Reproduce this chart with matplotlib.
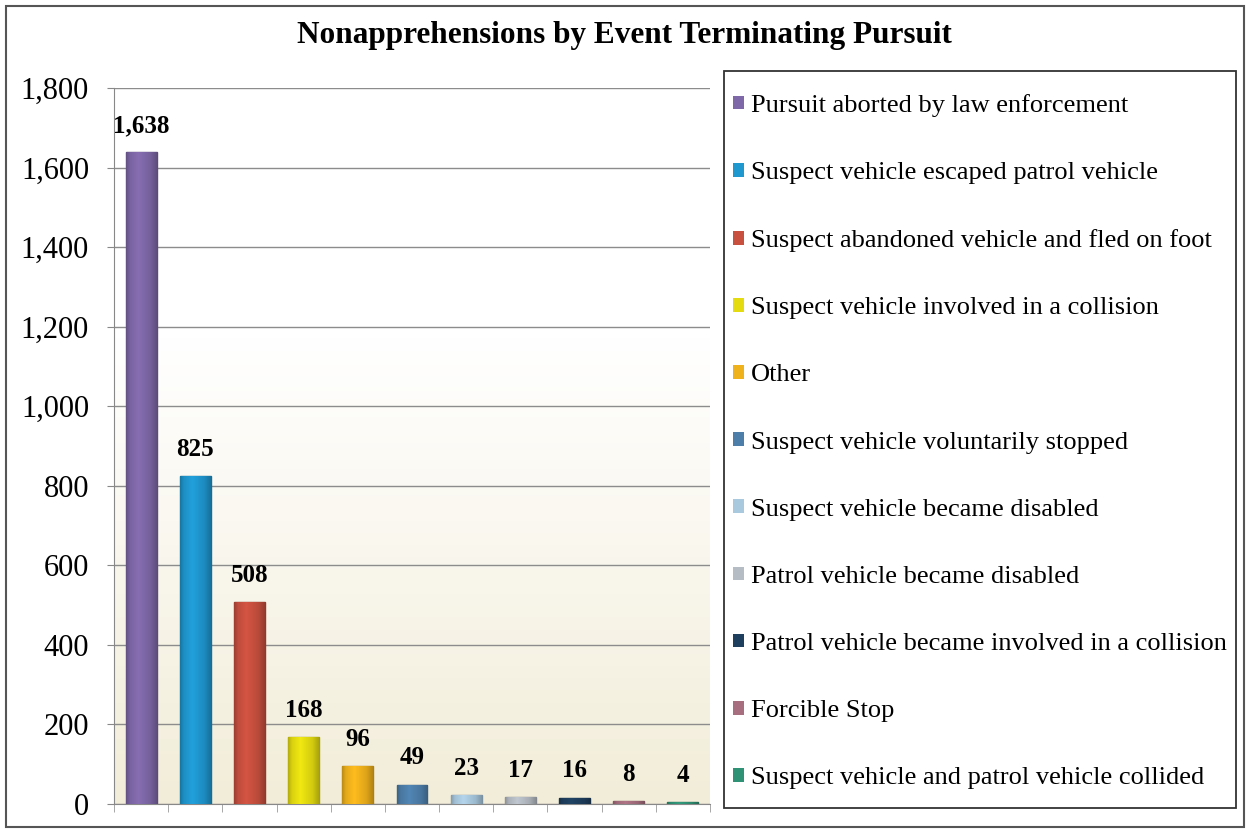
import matplotlib
matplotlib.use("Agg")
import matplotlib.pyplot as plt
import numpy as np
from matplotlib.patches import Patch, Rectangle
from matplotlib.colors import to_rgb
from matplotlib.ticker import FuncFormatter

categories = [
    "Pursuit aborted by law enforcement",
    "Suspect vehicle escaped patrol vehicle",
    "Suspect abandoned vehicle and fled on foot",
    "Suspect vehicle involved in a collision",
    "Other",
    "Suspect vehicle voluntarily stopped",
    "Suspect vehicle became disabled",
    "Patrol vehicle became disabled",
    "Patrol vehicle became involved in a collision",
    "Forcible Stop",
    "Suspect vehicle and patrol vehicle collided",
]
values = [1638, 825, 508, 168, 96, 49, 23, 17, 16, 8, 4]
colors = ["#7f68a8", "#1f97cf", "#c8503f", "#e4dc10", "#f0b21c", "#4d7eaa",
          "#a9c9df", "#b6bcc4", "#1f3f5f", "#a66e7e", "#2f9274"]
yticks = [0, 200, 400, 600, 800, 1000, 1200, 1400, 1600, 1800]
title = "Nonapprehensions by Event Terminating Pursuit"

plt.rcParams["font.family"] = ["Liberation Serif", "DejaVu Serif"]

W, H = 1249, 832
fig = plt.figure(figsize=(W / 100, H / 100), dpi=100)
ax = fig.add_axes([114 / W, 1 - 804 / H, (710 - 114) / W, (804 - 88) / H])

# background gradient (white top -> cream bottom)
grad = np.linspace(0, 1, 256).reshape(-1, 1)
top = np.array([1.0, 1.0, 1.0])
bot = np.array([0.95, 0.93, 0.85])
wgt = np.clip((grad - 0.35) / 0.65, 0, 1)
img = (top * (1 - wgt) + bot * wgt).reshape(256, 1, 3)
ax.imshow(img, extent=[0, 1, 0, 1], transform=ax.transAxes, aspect="auto",
          zorder=0, origin="upper")

x = np.arange(len(values))
edge = [tuple(np.array(to_rgb(c)) * 0.72) for c in colors]
bars = ax.bar(x, values, width=0.57, color=colors, edgecolor=edge, linewidth=1.0,
              zorder=3)

# cylinder-like horizontal shading inside each bar
prof_x = np.linspace(0, 1, 64)
shade = np.interp(prof_x, [0, 0.12, 0.4, 0.8, 1.0], [0.78, 0.95, 1.06, 0.92, 0.75])
for b, c in zip(bars, colors):
    rgb = np.clip(np.array(to_rgb(c))[None, :] * shade[:, None], 0, 1)
    x0, w_ = b.get_x(), b.get_width()
    im = ax.imshow(rgb[None, :, :], extent=[x0, x0 + w_, 0, b.get_height()],
                   aspect="auto", zorder=3.5, interpolation="bilinear")
    im.set_clip_path(b)

for i, v in enumerate(values):
    ax.annotate(f"{v:,}", (x[i], v), xytext=(0, 11), textcoords="offset points",
                ha="center", va="bottom", fontsize=18, fontweight="bold", zorder=4)

ax.set_xlim(-0.5, len(values) - 0.5)
ax.set_ylim(0, 1800)
ax.set_aspect("auto")
ax.set_yticks(yticks)
ax.yaxis.set_major_formatter(FuncFormatter(lambda v, p: f"{int(v):,}"))
ax.tick_params(axis="y", labelsize=22, length=5, color="#888888", pad=13)
ax.set_xticks([])
ax.set_xticks(np.arange(-0.5, len(values)), minor=True)
ax.tick_params(axis="x", which="minor", length=6, color="#999999")
ax.grid(axis="y", color="#8c8c8c", linewidth=1.0, zorder=1)
ax.set_axisbelow(True)
for s in ["top", "right"]:
    ax.spines[s].set_visible(False)
ax.spines["left"].set_color("#888888")
ax.spines["bottom"].set_color("#888888")

fig.text(0.5, 1 - 36 / H, title, ha="center", va="center", fontsize=22.5,
         fontweight="bold")

# legend frame
fig.patches.append(Rectangle((724 / W, 1 - 808 / H), (1236 - 724) / W, (808 - 71) / H,
                             transform=fig.transFigure, fill=False,
                             edgecolor="#333333", linewidth=1.3))
handles = [Patch(facecolor=c, edgecolor="none") for c in colors]
leg = fig.legend(handles, categories, loc="upper left",
                 bbox_to_anchor=(733 / W, 1 - 94 / H),
                 fontsize=19, frameon=False,
                 handlelength=0.42, handleheight=0.42, handletextpad=0.27,
                 labelspacing=1.71, borderpad=0, borderaxespad=0)

# outer border
fig.patches.append(Rectangle((6 / W, 1 - 827 / H), (1244 - 6) / W, (827 - 6) / H,
                             transform=fig.transFigure, fill=False,
                             edgecolor="#555555", linewidth=1.5))

fig.savefig("out.png", dpi=100)
